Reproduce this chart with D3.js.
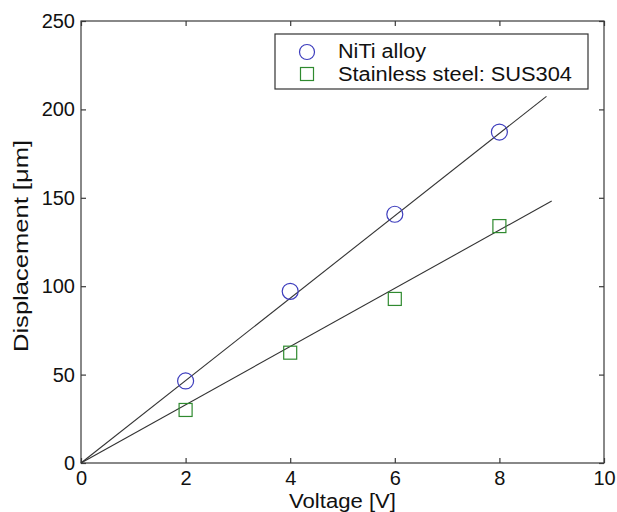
<!DOCTYPE html>
<html>
<head>
<meta charset="utf-8">
<script src="https://cdn.jsdelivr.net/npm/d3@7"></script>
<style>
  body { margin: 0; background: #fff; }
  svg { display: block; font-family: "Liberation Sans", Arial, sans-serif; }
</style>
</head>
<body>
<svg id="chart" width="617" height="512"></svg>
<script>
// Data
const voltage = [2, 4, 6, 8];
const nitiDisp = [46.4, 97.1, 140.7, 187.2];
const susDisp = [30.0, 62.4, 92.8, 134.0];
const nitiFitX = [0, 8.9];
const nitiFitY = [0, 207.4];
const susFitX = [0, 9];
const susFitY = [0, 148.2];
const xTicks = [0, 2, 4, 6, 8, 10];
const yTicks = [0, 50, 100, 150, 200, 250];
const seriesNames = ["NiTi alloy", "Stainless steel: SUS304"];

const svg = d3.select("#chart");
const m = { left: 81, right: 604, top: 21, bottom: 463 };
const x = d3.scaleLinear().domain([0, 10]).range([m.left, m.right]);
const y = d3.scaleLinear().domain([0, 250]).range([m.bottom, m.top]);
const axisColor = "#3a3a3a";
const tickLen = 5;

// Frame
svg.append("rect")
  .attr("x", m.left).attr("y", m.top)
  .attr("width", m.right - m.left).attr("height", m.bottom - m.top)
  .attr("fill", "none").attr("stroke", axisColor).attr("stroke-width", 1.2);

// Axes with inward ticks
function styleAxis(g) {
  g.select(".domain").remove();
  g.selectAll(".tick line").attr("stroke", axisColor).attr("stroke-width", 1.2);
  g.selectAll(".tick text").attr("fill", "#111").style("font-size", "20px");
}
svg.append("g").attr("transform", `translate(0,${m.bottom})`)
  .call(d3.axisBottom(x).tickValues(xTicks).tickFormat(d3.format("d")).tickSizeInner(-tickLen).tickPadding(8))
  .call(styleAxis);
svg.append("g").attr("transform", `translate(0,${m.top})`)
  .call(d3.axisTop(x).tickValues(xTicks).tickFormat("").tickSizeInner(-tickLen))
  .call(styleAxis);
svg.append("g").attr("transform", `translate(${m.left},0)`)
  .call(d3.axisLeft(y).tickValues(yTicks).tickFormat(d3.format("d")).tickSizeInner(-tickLen).tickPadding(6))
  .call(styleAxis);
svg.append("g").attr("transform", `translate(${m.right},0)`)
  .call(d3.axisRight(y).tickValues(yTicks).tickFormat("").tickSizeInner(-tickLen))
  .call(styleAxis);

// Fit lines
const line = d3.line().x(d => x(d[0])).y(d => y(d[1]));
svg.append("path").datum(d3.zip(nitiFitX, nitiFitY))
  .attr("d", line).attr("fill", "none").attr("stroke", "#333").attr("stroke-width", 1.1);
svg.append("path").datum(d3.zip(susFitX, susFitY))
  .attr("d", line).attr("fill", "none").attr("stroke", "#333").attr("stroke-width", 1.1);

const blue = "#3d3dbd";
const green = "#2f8a2f";
const sq = 13;

// Markers
svg.selectAll("circle.niti").data(d3.zip(voltage, nitiDisp)).join("circle")
  .attr("class", "niti")
  .attr("cx", d => x(d[0])).attr("cy", d => y(d[1])).attr("r", 8)
  .attr("fill", "none").attr("stroke", blue).attr("stroke-width", 1.2);
svg.selectAll("rect.sus").data(d3.zip(voltage, susDisp)).join("rect")
  .attr("class", "sus")
  .attr("x", d => x(d[0]) - sq / 2).attr("y", d => y(d[1]) - sq / 2)
  .attr("width", sq).attr("height", sq)
  .attr("fill", "none").attr("stroke", green).attr("stroke-width", 1.2);

// Legend
const lg = svg.append("g");
lg.append("rect").attr("x", 275).attr("y", 34).attr("width", 313).attr("height", 55)
  .attr("fill", "#fff").attr("stroke", "#333").attr("stroke-width", 1.2);
lg.append("circle").attr("cx", 307).attr("cy", 52).attr("r", 7.5)
  .attr("fill", "none").attr("stroke", blue).attr("stroke-width", 1.2);
lg.append("rect").attr("x", 307 - 6.5).attr("y", 74 - 6.5).attr("width", 13).attr("height", 13)
  .attr("fill", "none").attr("stroke", green).attr("stroke-width", 1.2);
lg.append("text").attr("x", 338).attr("y", 58).text(seriesNames[0])
  .attr("textLength", 88).attr("lengthAdjust", "spacingAndGlyphs")
  .style("font-size", "20px").attr("fill", "#111");
lg.append("text").attr("x", 338).attr("y", 81).text(seriesNames[1])
  .attr("textLength", 234).attr("lengthAdjust", "spacingAndGlyphs")
  .style("font-size", "20px").attr("fill", "#111");

// Axis labels
svg.append("text").attr("x", (m.left + m.right) / 2).attr("y", 508)
  .attr("text-anchor", "middle").style("font-size", "20px").attr("fill", "#111")
  .attr("textLength", 107).attr("lengthAdjust", "spacingAndGlyphs")
  .text("Voltage [V]");
svg.append("text")
  .attr("transform", `translate(28,${(m.top + m.bottom) / 2 + 4}) rotate(-90)`)
  .attr("text-anchor", "middle").style("font-size", "20px").attr("fill", "#111")
  .attr("textLength", 212).attr("lengthAdjust", "spacingAndGlyphs")
  .text("Displacement [μm]");
</script>
</body>
</html>
